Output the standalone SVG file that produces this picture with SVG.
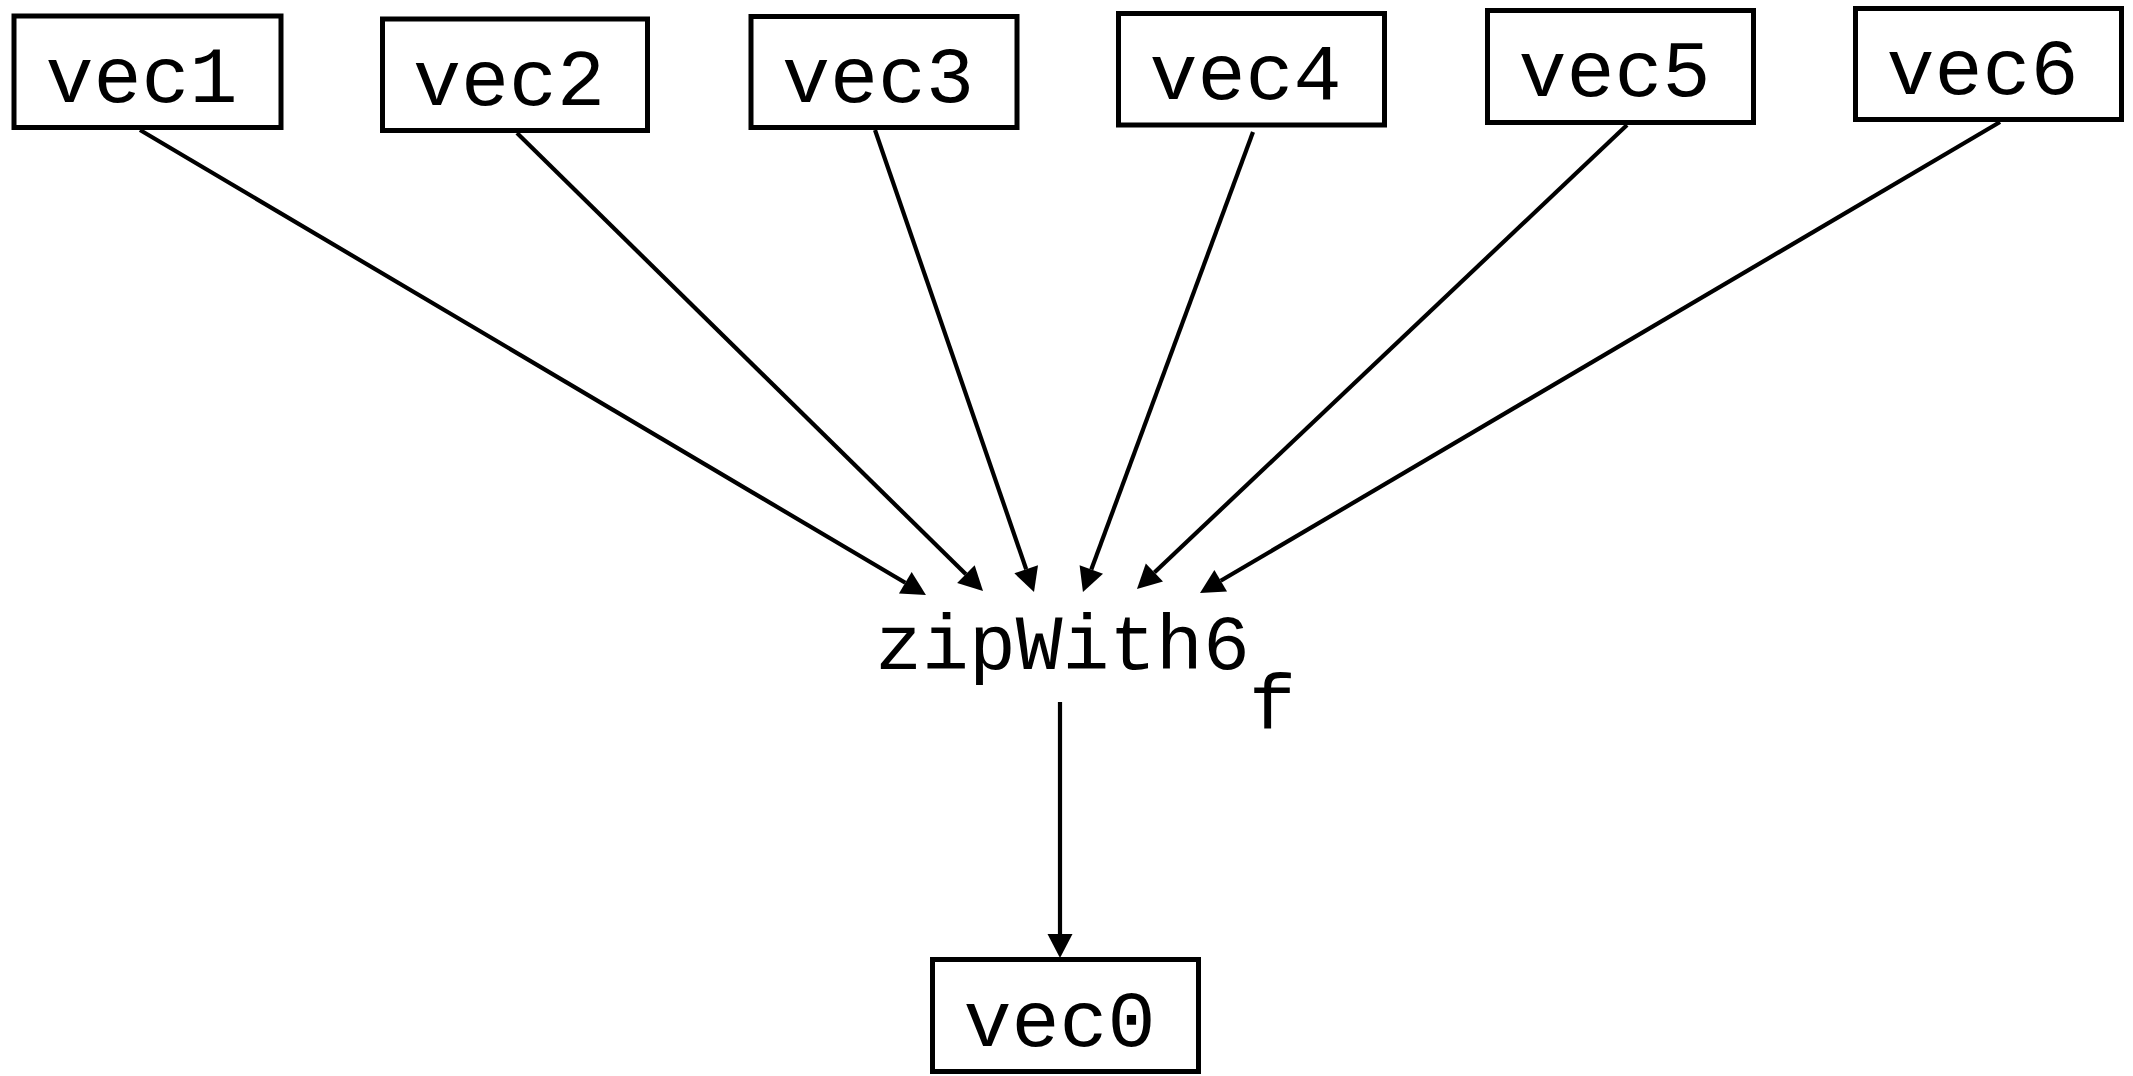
<svg xmlns="http://www.w3.org/2000/svg" width="2133" height="1076" viewBox="0 0 2133 1076">
  <style>
    .box { fill: #ffffff; stroke: #000000; stroke-width: 5; }
    .label { font-family: "Liberation Mono", "DejaVu Sans Mono", monospace; font-size: 80px; fill: #000000; text-anchor: middle; }
    .edge { fill: none; stroke: #000000; stroke-width: 4.2; marker-end: url(#arrow); }
  </style>
  <defs>
    <marker id="arrow" markerUnits="userSpaceOnUse" markerWidth="26" markerHeight="26" refX="0" refY="12.5" orient="auto" overflow="visible">
      <path d="M0,0 L24,12.5 L0,25 Z" fill="#000000"/>
    </marker>
  </defs>
  <rect width="2133" height="1076" fill="#ffffff"/>

  <!-- input vectors -->
  <g id="vec1">
    <rect class="box" x="14" y="16" width="267" height="111.5"/>
    <text class="label" x="141.5" y="101.5">vec1</text>
  </g>
  <g id="vec2">
    <rect class="box" x="382.5" y="19" width="265" height="111.5"/>
    <text class="label" x="509" y="104.5">vec2</text>
  </g>
  <g id="vec3">
    <rect class="box" x="751" y="16.5" width="266" height="111"/>
    <text class="label" x="878" y="101.5">vec3</text>
  </g>
  <g id="vec4">
    <rect class="box" x="1118.5" y="13.5" width="266" height="111.5"/>
    <text class="label" x="1245.5" y="99">vec4</text>
  </g>
  <g id="vec5">
    <rect class="box" x="1487.5" y="10.5" width="266" height="112"/>
    <text class="label" x="1614.5" y="96">vec5</text>
  </g>
  <g id="vec6">
    <rect class="box" x="1855.5" y="8.5" width="266" height="111"/>
    <text class="label" x="1982.5" y="94">vec6</text>
  </g>

  <!-- operation -->
  <g id="zipWith6">
    <text class="label" x="1062.5" y="669" style="font-size:78px">zipWith6</text>
    <text class="label" x="1272.5" y="729" style="font-size:78px">f</text>
  </g>

  <!-- output vector -->
  <g id="vec0">
    <rect class="box" x="932.5" y="959.5" width="266" height="112"/>
    <text class="label" x="1059.5" y="1046">vec0</text>
  </g>

  <!-- connectors -->
  <g id="edges">
    <line class="edge" x1="140" y1="130" x2="905.3" y2="582.8"/>
    <line class="edge" x1="517" y1="133" x2="965.9" y2="574.2"/>
    <line class="edge" x1="875" y1="130" x2="1026.2" y2="569.3"/>
    <line class="edge" x1="1253" y1="132" x2="1091.3" y2="569.5"/>
    <line class="edge" x1="1627" y1="125" x2="1154.4" y2="572.5"/>
    <line class="edge" x1="2000" y1="122" x2="1220.7" y2="580.8"/>
    <line class="edge" x1="1060" y1="702" x2="1060" y2="934"/>
  </g>
</svg>
